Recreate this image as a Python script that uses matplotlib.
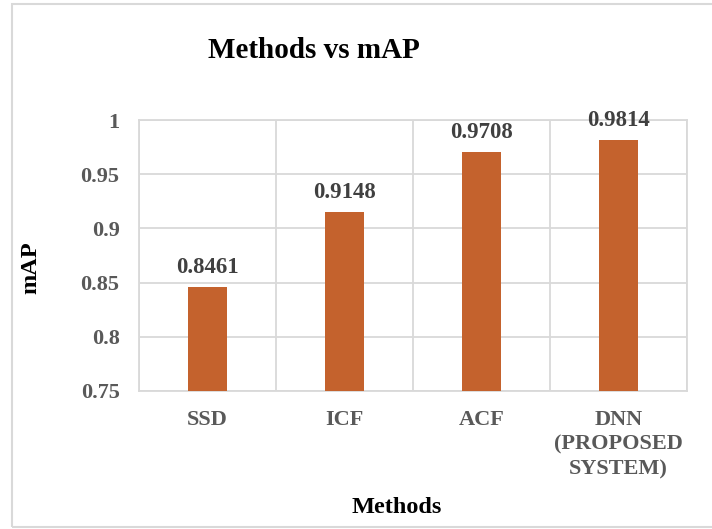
import matplotlib.pyplot as plt
from matplotlib.patches import Rectangle

# mAP per detection method
methods = ["SSD", "ICF", "ACF", "DNN\n(PROPOSED\nSYSTEM)"]
map_scores = [0.8461, 0.9148, 0.9708, 0.9814]
y_ticks = [0.75, 0.8, 0.85, 0.9, 0.95, 1]
y_tick_labels = ["0.75", "0.8", "0.85", "0.9", "0.95", "1"]

bar_color = "#C4622D"
grid_color = "#D9D9D9"
tick_color = "#595959"

plt.rcParams["font.family"] = ["Liberation Serif", "DejaVu Serif"]
plt.rcParams["font.weight"] = "bold"

W, H = 712, 529
fig = plt.figure(figsize=(W / 100, H / 100), dpi=100)
ax = fig.add_axes([139 / W, 1 - 391 / H, 548 / W, 271 / H])

x = range(len(methods))
bars = ax.bar(x, map_scores, width=0.28, color=bar_color, zorder=3)

ax.set_xlim(-0.5, len(methods) - 0.5)
ax.set_ylim(0.75, 1)
ax.set_yticks(y_ticks)
ax.set_yticklabels(y_tick_labels)
ax.set_xticks(list(x))
ax.set_xticklabels(methods, linespacing=1.3)

# vertical grid between categories, horizontal grid on major ticks
ax.set_xticks([i - 0.5 for i in range(len(methods) + 1)], minor=True)
ax.grid(axis="x", which="minor", color=grid_color, linewidth=1.3, zorder=0)
ax.grid(axis="y", which="major", color=grid_color, linewidth=1.3, zorder=0)
ax.tick_params(axis="both", which="both", length=0)
ax.tick_params(axis="x", pad=14, labelsize=16, labelcolor=tick_color)
ax.tick_params(axis="y", pad=14, labelsize=16, labelcolor=tick_color)
for lbl in ax.get_xticklabels() + ax.get_yticklabels():
    lbl.set_fontweight("bold")
for sp in ax.spines.values():
    sp.set_color(grid_color)
    sp.set_linewidth(1.3)

for b, v in zip(bars, map_scores):
    ax.annotate(f"{v:.4f}", (b.get_x() + b.get_width() / 2, v),
                xytext=(0, 10), textcoords="offset points",
                ha="center", va="baseline", fontsize=16.5,
                fontweight="bold", color="#404040")

fig.text(208 / W, 1 - 58 / H, "Methods vs mAP", ha="left", va="baseline",
         fontsize=21, fontweight="bold")
fig.text(397 / W, 1 - 513 / H, "Methods", ha="center", va="baseline",
         fontsize=17.5, fontweight="bold")
fig.text(31 / W, 1 - 268 / H, "mAP", ha="center", va="center",
         rotation=90, fontsize=17.5, fontweight="bold")

# chart area frame
fig.patches.append(Rectangle((12 / W, 2 / H), 720 / W, 523 / H,
                             transform=fig.transFigure, fill=False,
                             edgecolor=grid_color, linewidth=1.5))

fig.savefig("out.png", dpi=100)
